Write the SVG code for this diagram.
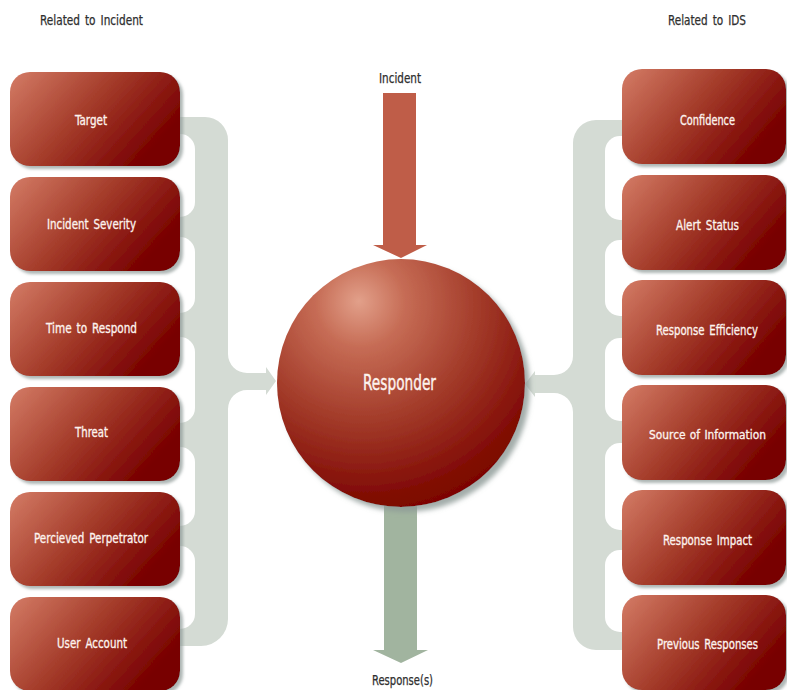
<svg xmlns="http://www.w3.org/2000/svg" width="787" height="690" viewBox="0 0 787 690">
<style>
.lbl{font-family:"DejaVu Sans Condensed","DejaVu Sans","Liberation Sans Narrow",sans-serif;font-size:14px;fill:#fdf3ee;stroke:#fdf3ee;stroke-width:0.3;text-anchor:middle;word-spacing:2px}
.sm{font-size:12.5px;word-spacing:1px}
.hdr{font-family:"DejaVu Sans Condensed","DejaVu Sans","Liberation Sans Narrow",sans-serif;font-size:14px;fill:#2f2f2f;stroke:#2f2f2f;stroke-width:0.25;text-anchor:middle;word-spacing:2px}
.box{fill:url(#boxGrad);filter:url(#sh)}
.brk{fill:#d4dbd4}
.hole{fill:#ffffff}
</style>
<defs>
<linearGradient id="boxGrad" x1="0" y1="0" x2="1" y2="0.5">
<stop offset="0" stop-color="#d47c66"/>
<stop offset="0.5" stop-color="#a63e2c"/>
<stop offset="1" stop-color="#780000"/>
</linearGradient>
<radialGradient id="sphGrad" cx="0.36" cy="0.2" r="0.9" fx="0.33" fy="0.17">
<stop offset="0" stop-color="#e2a08a"/>
<stop offset="0.2" stop-color="#c66c55"/>
<stop offset="0.5" stop-color="#a53e2c"/>
<stop offset="0.85" stop-color="#800a04"/>
<stop offset="1" stop-color="#780000"/>
</radialGradient>
<filter id="sh" x="-10%" y="-10%" width="125%" height="125%">
<feDropShadow dx="3" dy="3" stdDeviation="1.5" flood-color="#8c9895" flood-opacity="0.7"/>
</filter>
<filter id="sh2" x="-10%" y="-10%" width="125%" height="125%">
<feDropShadow dx="5" dy="5" stdDeviation="2.5" flood-color="#8d9996" flood-opacity="0.8"/>
</filter>
</defs>

<text class="hdr" x="91.5" y="25" textLength="103" lengthAdjust="spacingAndGlyphs">Related to Incident</text>
<text class="hdr" x="707" y="25" textLength="78" lengthAdjust="spacingAndGlyphs">Related to IDS</text>

<g id="connectors">
<path class="brk" d="M172,117 H205 A23 23 0 0 1 228,140 V354 A19 19 0 0 0 247,373 H266 V367 L276,381 L266,395 V390 H247 A19 19 0 0 0 228,409 V619 A27 27 0 0 1 201,646 H172 Z"/>
<rect class="hole" x="150" y="134" width="45" height="83" rx="15"/>
<rect class="hole" x="150" y="237" width="45" height="76" rx="15"/>
<rect class="hole" x="150" y="337" width="45" height="86" rx="15"/>
<rect class="hole" x="150" y="447" width="45" height="79" rx="15"/>
<rect class="hole" x="150" y="546" width="45" height="83" rx="15"/>

<path class="brk" d="M630,120 H596 A23 23 0 0 0 573,143 V356 A19 19 0 0 1 554,375 H535 V371 L525,384 L535,397 V393 H554 A19 19 0 0 1 573,412 V627 A23 23 0 0 0 596,650 H630 Z"/>
<rect class="hole" x="605" y="136" width="45" height="84" rx="15"/>
<rect class="hole" x="605" y="240" width="45" height="76" rx="15"/>
<rect class="hole" x="605" y="338" width="45" height="83" rx="15"/>
<rect class="hole" x="605" y="443" width="45" height="87" rx="15"/>
<rect class="hole" x="605" y="550" width="45" height="82" rx="15"/>

<path d="M384,500 H417 V650 H428 L401,663 L373,650 H384 Z" fill="#a1b49f"/>
<path d="M383,93 H416 V245 H427 L401,258 L373,245 H383 Z" fill="#bf5d48"/>
</g>

<text class="hdr" x="400" y="83" textLength="42" lengthAdjust="spacingAndGlyphs">Incident</text>
<text class="hdr" x="402.5" y="685" textLength="61" lengthAdjust="spacingAndGlyphs">Response(s)</text>

<g id="responder">
<circle cx="401" cy="383" r="124" fill="url(#sphGrad)" filter="url(#sh2)"/>
<text x="399.5" y="390" textLength="73" lengthAdjust="spacingAndGlyphs" style="font-family:'DejaVu Sans Condensed','DejaVu Sans',sans-serif;font-size:22px;fill:#fdf3ee;stroke:#fdf3ee;stroke-width:0.4;text-anchor:middle">Responder</text>
</g>

<g id="target"><rect class="box" x="10" y="72" width="170" height="94" rx="20"/><text class="lbl" x="91" y="125" textLength="32" lengthAdjust="spacingAndGlyphs">Target</text></g>
<g id="incident-severity"><rect class="box" x="10" y="177" width="170" height="94" rx="20"/><text class="lbl" x="91.5" y="229" textLength="89" lengthAdjust="spacingAndGlyphs">Incident Severity</text></g>
<g id="time-to-respond"><rect class="box" x="10" y="282" width="170" height="94" rx="20"/><text class="lbl" x="91.5" y="333" textLength="91" lengthAdjust="spacingAndGlyphs">Time to Respond</text></g>
<g id="threat"><rect class="box" x="10" y="387" width="170" height="94" rx="20"/><text class="lbl" x="91.5" y="437" textLength="33" lengthAdjust="spacingAndGlyphs">Threat</text></g>
<g id="percieved-perpetrator"><rect class="box" x="10" y="492" width="170" height="94" rx="20"/><text class="lbl" x="91" y="543" textLength="114" lengthAdjust="spacingAndGlyphs">Percieved Perpetrator</text></g>
<g id="user-account"><rect class="box" x="10" y="597" width="170" height="94" rx="20"/><text class="lbl" x="92" y="648" textLength="70" lengthAdjust="spacingAndGlyphs">User Account</text></g>

<g id="confidence"><rect class="box" x="622" y="69" width="164" height="95" rx="20"/><text class="lbl" x="707.5" y="125" textLength="55" lengthAdjust="spacingAndGlyphs">Confidence</text></g>
<g id="alert-status"><rect class="box" x="622" y="175" width="164" height="95" rx="20"/><text class="lbl" x="707.5" y="230" textLength="63" lengthAdjust="spacingAndGlyphs">Alert Status</text></g>
<g id="response-efficiency"><rect class="box" x="622" y="280" width="164" height="95" rx="20"/><text class="lbl" x="707" y="335" textLength="102" lengthAdjust="spacingAndGlyphs">Response Efficiency</text></g>
<g id="source-of-information"><rect class="box" x="622" y="385" width="164" height="95" rx="20"/><text class="lbl sm" x="707.5" y="439" textLength="117" lengthAdjust="spacingAndGlyphs">Source of Information</text></g>
<g id="response-impact"><rect class="box" x="622" y="490" width="164" height="95" rx="20"/><text class="lbl" x="707.5" y="545" textLength="89" lengthAdjust="spacingAndGlyphs">Response Impact</text></g>
<g id="previous-responses"><rect class="box" x="622" y="595" width="164" height="95" rx="20"/><text class="lbl" x="707.5" y="649" textLength="101" lengthAdjust="spacingAndGlyphs">Previous Responses</text></g>
</svg>
